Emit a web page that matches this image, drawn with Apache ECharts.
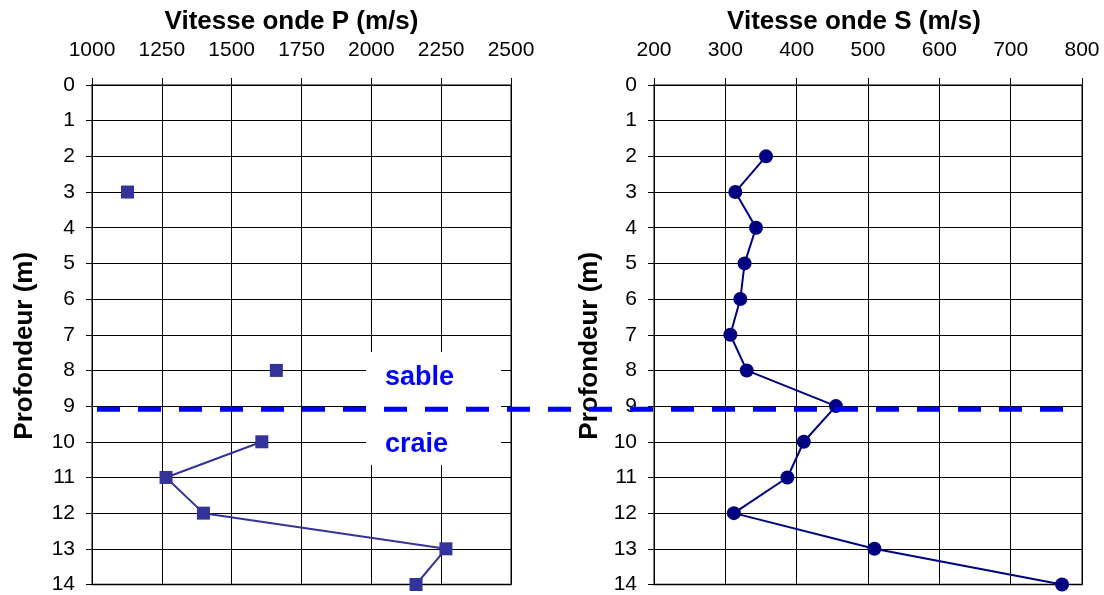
<!DOCTYPE html>
<html>
<head>
<meta charset="utf-8">
<script src="https://cdn.jsdelivr.net/npm/echarts@6/dist/echarts.min.js"></script>
<style>
html, body { margin: 0; padding: 0; background: #fff; }
#chart { width: 1104px; height: 595px; }
</style>
</head>
<body>
<div id="chart"></div>
<script>
// profondeurs (m) et vitesses mesurées (null = pas de mesure)
var profondeurs = [0, 1, 2, 3, 4, 5, 6, 7, 8, 9, 10, 11, 12, 13, 14];
var vitesseP = [null, null, null, 1127, null, null, null, null, 1660, null, 1608, 1265, 1399, 2267, 2160];
var vitesseS = [null, null, 357, 314, 343, 327, 321, 307, 330, 455, 410, 387, 312, 509, 772];

// échelles des axes
var echelleP = [1000, 2500, 250];
var echelleS = [200, 800, 100];
var echelleProf = [0, 14, 1];

// limite sable / craie
var limiteCouche = 9.08;
var couches = ['sable', 'craie'];

var police = 'Liberation Sans, Arial, sans-serif';

function points(vals) {
  return profondeurs.map(function (d, i) {
    return [vals[i] == null ? '-' : vals[i], d];
  });
}

function brut(v) {
  return String(v);
}

function axeX(grid, ech, titre, pad) {
  return {
    gridIndex: grid,
    type: 'value',
    position: 'top',
    min: ech[0],
    max: ech[1],
    interval: ech[2],
    name: titre,
    nameLocation: 'middle',
    nameGap: 50,
    nameTextStyle: {
      color: '#000', fontSize: 26, fontWeight: 'bold', fontFamily: police,
      padding: pad
    },
    axisLine: { show: false },
    axisTick: { show: true, length: 7, lineStyle: { color: '#000', width: 1 } },
    axisLabel: { color: '#000', fontSize: 21, fontFamily: police, margin: 24, formatter: brut },
    splitLine: { show: true, lineStyle: { color: '#000', width: 1 } }
  };
}

function axeY(grid, gap) {
  return {
    gridIndex: grid,
    type: 'value',
    inverse: true,
    min: echelleProf[0],
    max: echelleProf[1],
    interval: echelleProf[2],
    name: 'Profondeur (m)',
    nameLocation: 'middle',
    nameGap: gap,
    nameTextStyle: {
      color: '#000', fontSize: 26, fontWeight: 'bold', fontFamily: police,
      padding: [0, 22, 0, 0]
    },
    axisLine: { show: false },
    axisTick: { show: true, length: 6, lineStyle: { color: '#000', width: 1 } },
    axisLabel: { color: '#000', fontSize: 21, fontFamily: police, margin: 17, formatter: brut },
    splitLine: { show: true, lineStyle: { color: '#000', width: 1 } }
  };
}

var chartDom = document.getElementById('chart');
var myChart = echarts.init(chartDom, null, { renderer: 'canvas' });
var option;

option = {
  backgroundColor: '#fff',
  animation: false,
  grid: [
    { left: 92, top: 85, width: 419, height: 500, show: true, borderColor: '#808080', borderWidth: 2, backgroundColor: 'transparent' },
    { left: 654, top: 85, width: 428, height: 500, show: true, borderColor: '#808080', borderWidth: 2, backgroundColor: 'transparent' },
    // grille invisible pour la limite des couches
    { left: 97, right: 31, top: 85, height: 500 }
  ],
  xAxis: [
    axeX(0, echelleP, 'Vitesse onde P (m/s)', [0, 20, 0, 0]),
    axeX(1, echelleS, 'Vitesse onde S (m/s)', [0, 28, 0, 0]),
    { gridIndex: 2, type: 'value', min: 0, max: 1, show: false }
  ],
  yAxis: [
    axeY(0, 54),
    axeY(1, 51),
    { gridIndex: 2, type: 'value', inverse: true, min: echelleProf[0], max: echelleProf[1], show: false }
  ],
  series: [
    {
      name: 'P',
      type: 'line',
      xAxisIndex: 0,
      yAxisIndex: 0,
      data: points(vitesseP),
      connectNulls: false,
      symbol: 'rect',
      symbolSize: 13,
      showSymbol: true,
      itemStyle: { color: '#333399' },
      lineStyle: { color: '#333399', width: 2 },
      z: 3
    },
    {
      name: 'S',
      type: 'line',
      xAxisIndex: 1,
      yAxisIndex: 1,
      data: points(vitesseS),
      connectNulls: false,
      symbol: 'circle',
      symbolSize: 14,
      showSymbol: true,
      itemStyle: { color: '#000080' },
      lineStyle: { color: '#000080', width: 2 },
      z: 3
    },
    {
      name: 'limite',
      type: 'line',
      xAxisIndex: 2,
      yAxisIndex: 2,
      data: [[0, limiteCouche], [1, limiteCouche]],
      symbol: 'none',
      silent: true,
      lineStyle: { color: '#0000ff', width: 5, type: [23, 18] },
      z: 5
    }
  ],
  graphic: [
    {
      type: 'rect',
      shape: { x: 366, y: 352, width: 135, height: 113 },
      style: { fill: '#fff' },
      z: 1
    },
    {
      type: 'text',
      x: 385,
      y: 378,
      style: {
        text: couches[0], fill: '#0000ff', font: 'bold 27px ' + police,
        textAlign: 'left', textVerticalAlign: 'middle'
      },
      z: 4
    },
    {
      type: 'text',
      x: 385,
      y: 445,
      style: {
        text: couches[1], fill: '#0000ff', font: 'bold 27px ' + police,
        textAlign: 'left', textVerticalAlign: 'middle'
      },
      z: 4
    }
  ]
};

option && myChart.setOption(option);
window.addEventListener('resize', function () {
  myChart.resize();
});
</script>
</body>
</html>
